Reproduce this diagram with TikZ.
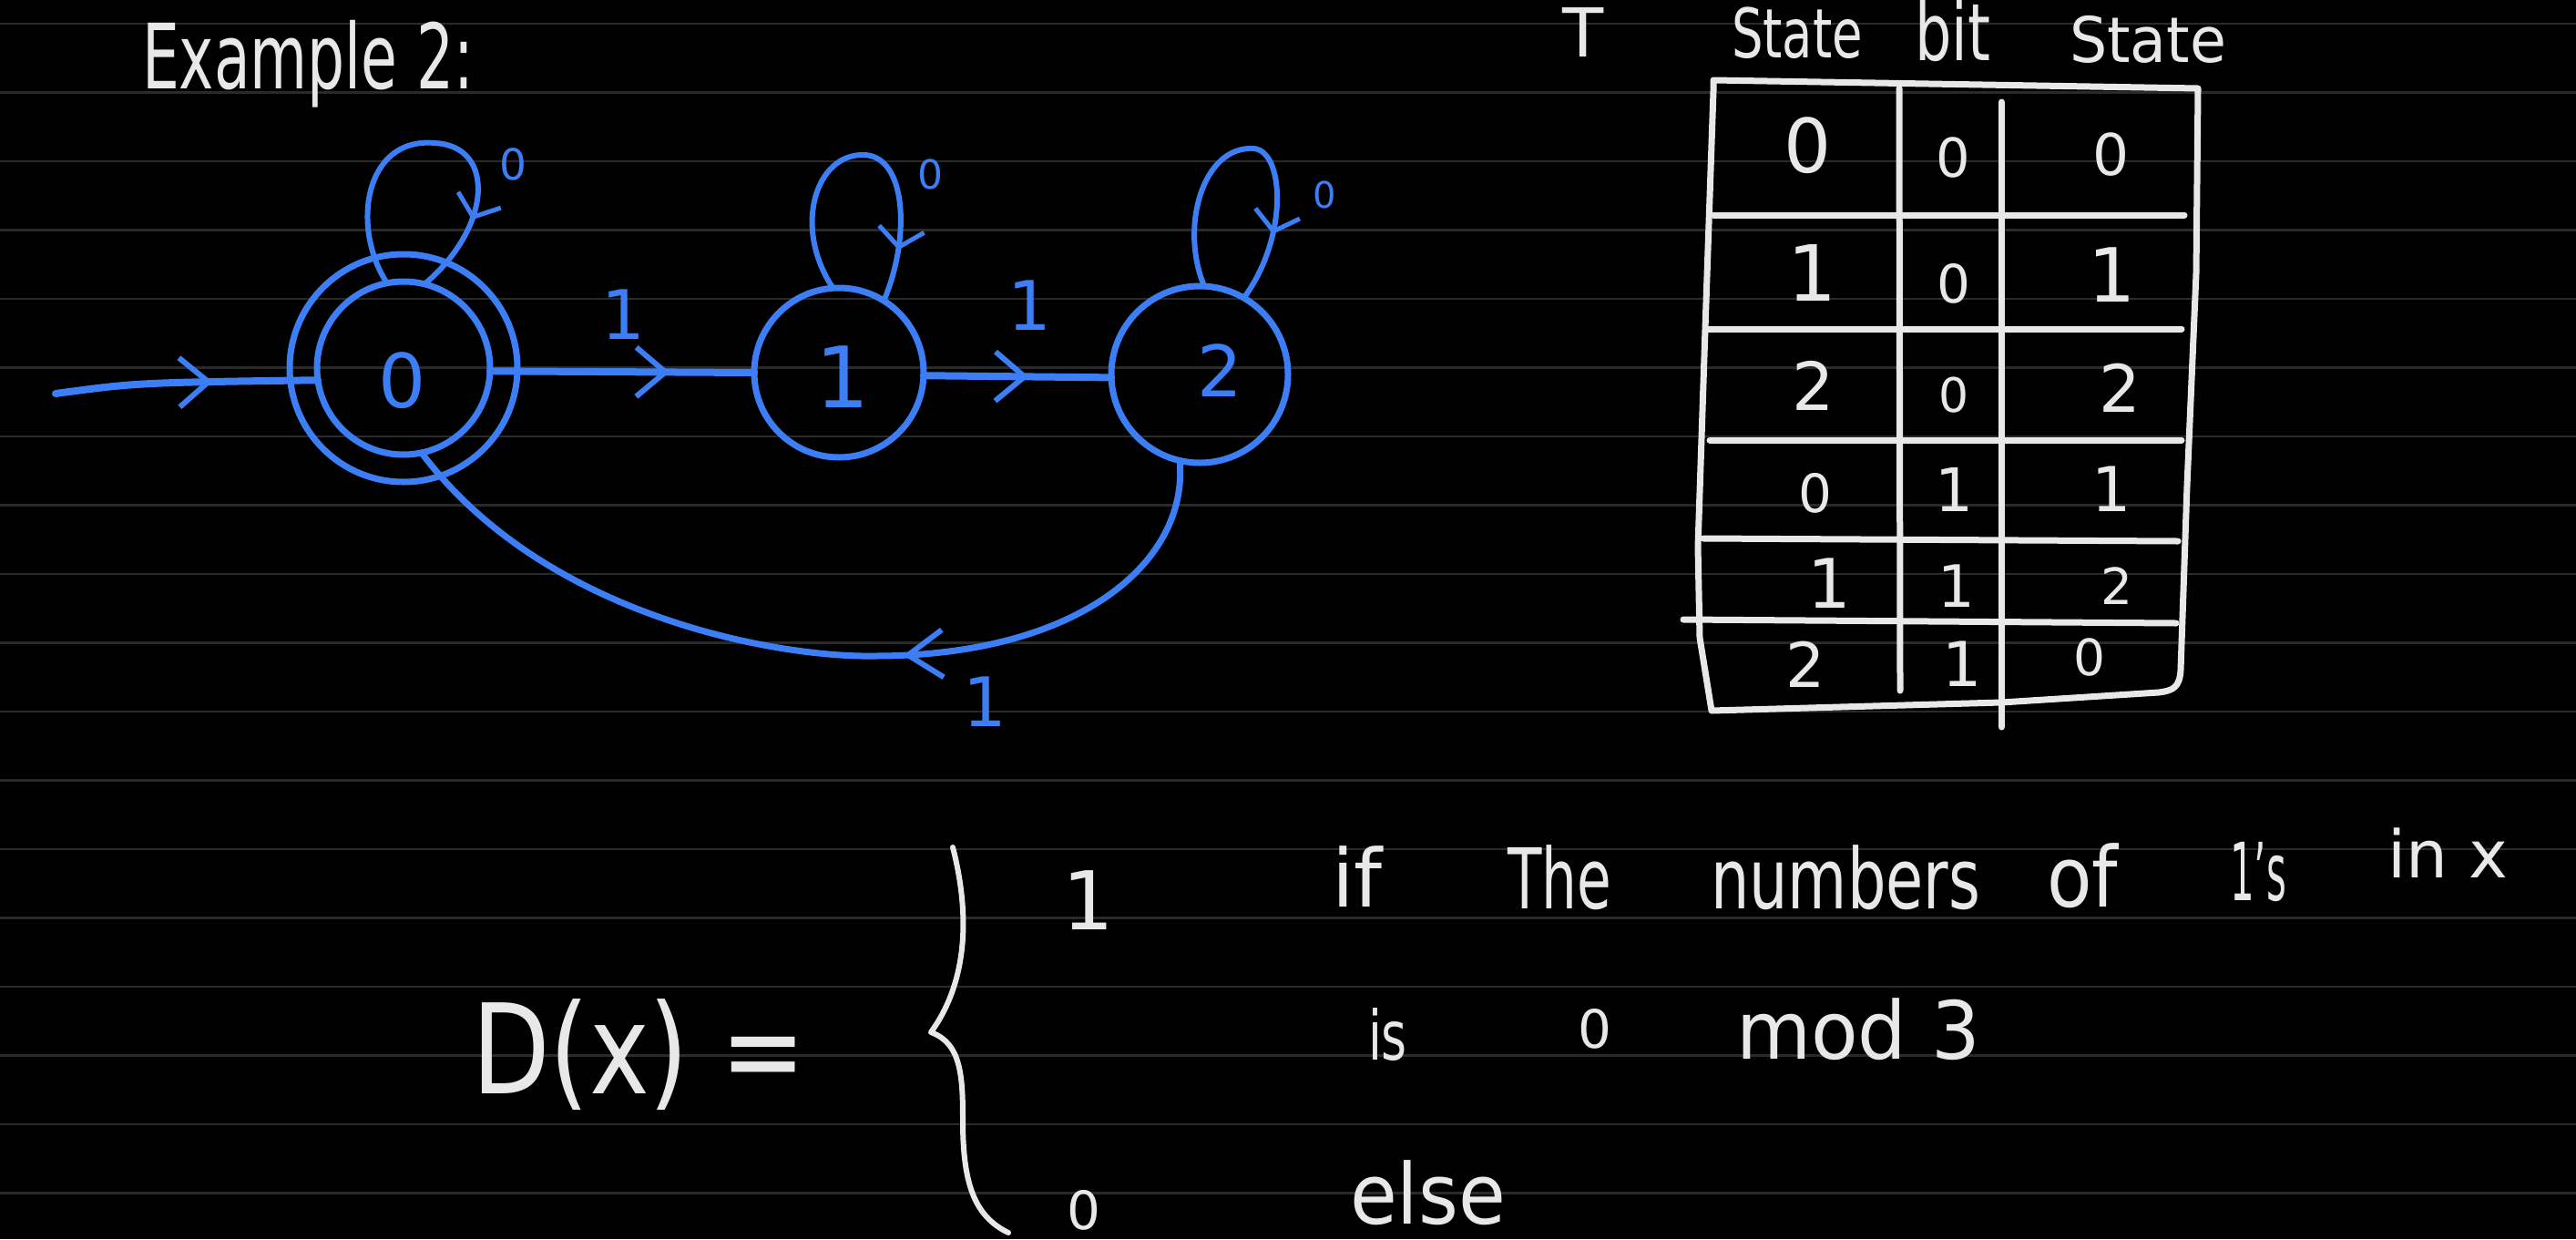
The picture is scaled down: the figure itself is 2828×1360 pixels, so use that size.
\documentclass[tikz,border=0pt]{standalone}
\usepackage{fontspec}
\setmainfont{DejaVu Sans}
\usepackage{graphicx}
\usetikzlibrary{arrows.meta,decorations.markings}
\definecolor{chalk}{RGB}{232,232,232}
\definecolor{ink}{RGB}{59,126,246}
\definecolor{ruleline}{RGB}{42,42,42}
\newcommand{\fsz}[1]{\fontsize{#1}{#1}\selectfont}
\newcommand{\fw}[3]{\resizebox{#1pt}{\height}{\fsz{#2}#3}}
\tikzset{
  chevE/.tip={Straight Barb[length=32pt,width=54pt,line width=6pt]},
  chevL/.tip={Straight Barb[length=20pt,width=50pt,line width=5pt]},
  chevB/.tip={Straight Barb[length=38pt,width=52pt,line width=6pt]},
  tipat/.style 2 args={postaction={decorate,decoration={markings,mark=at position #1 with {\arrow{#2}}}}},
  wt/.style={text=chalk, inner sep=0pt, outer sep=0pt},
  bt/.style={text=ink, inner sep=0pt, outer sep=0pt},
  statenode/.style={draw=ink, line width=7pt, circle, inner sep=0pt, outer sep=0pt},
  edgeline/.style={draw=ink, color=ink, line width=8pt, line cap=round},
  loopline/.style={draw=ink, color=ink, line width=6pt, line cap=round},
  tabline/.style={draw=chalk, line width=7pt, line cap=round, line join=round},
  brace/.style={draw=chalk, line width=6pt, line cap=round, line join=round},
}
\begin{document}
\begin{tikzpicture}[x=1pt,y=-1pt]
\useasboundingbox (0,0) rectangle (2828,1360);
\fill[black] (0,0) rectangle (2828,1360);
\foreach \k in {0,...,17}
  \draw[ruleline, line width=2.2pt] (0,{26+75.5*\k}) -- (2828,{26+75.5*\k});

% ---------- title ----------
\node[wt, anchor=base west] (title) at (156,97) {\fw{364}{99}{Example 2:}};

% ---------- automaton ----------
\node[statenode, minimum size=190pt] (s0) at (443,404) {};
\node[statenode, minimum size=250pt] (s0o) at (443,404) {};
\node[statenode, minimum size=186pt] (s1) at (921,409) {};
\node[statenode, minimum size=194pt] (s2) at (1317,411) {};
\node[bt, font=\fsz{82}] (l0) at (442,418) {0};
\node[bt, font=\fsz{93}] (l1) at (925,414) {1};
\node[bt, font=\fsz{78}] (l2) at (1339,407) {2};

\coordinate (in0) at (61,432);
\draw[edgeline, tipat={0.6}{chevE}] (in0) .. controls (150,420) .. (s0.188);
\draw[edgeline, tipat={0.68}{chevE}] (s0.-2) -- (s1.180);
\draw[edgeline, tipat={0.56}{chevE}] (s1.-2) -- (s2.182);

\draw[loopline, tipat={0.78}{chevL}] (s0.101) .. controls (385,250) and (400,150) .. (477,157)
   .. controls (545,160) and (540,250) .. (s0.76);
\draw[loopline, tipat={0.84}{chevL}] (s1.94) .. controls (870,250) and (895,168) .. (949,170)
   .. controls (995,172) and (1000,260) .. (s1.58);
\draw[loopline, tipat={0.79}{chevL}] (s2.87) .. controls (1295,250) and (1320,160) .. (1376,163)
   .. controls (1410,165) and (1415,260) .. (s2.60);

\coordinate (bm) at (960,720);
\draw[edgeline, line width=7pt, tipat={0.41}{chevB}] (s2.257) .. controls (1305,620) and (1180,720) .. (bm)
   .. controls (860,722) and (600,680) .. (s0.282);

\node[bt, font=\fsz{47}] (e00) at (563,180) {0};
\node[bt, font=\fsz{44}] (e11) at (1021,191) {0};
\node[bt, font=\fsz{40}] (e22) at (1454,214) {0};
\node[bt, font=\fsz{75}] (e01) at (684,345) {1};
\node[bt, font=\fsz{75}] (e12) at (1130,335) {1};
\node[bt, font=\fsz{75}] (e20) at (1081,770) {1};

% ---------- table ----------
\node[wt, anchor=base west, font=\fsz{74}] (hT) at (1715,62) {T};
\node[wt, anchor=base west] (h1) at (1901,63) {\fw{144}{75}{State}};
\node[wt, anchor=base west] (h2) at (2102,66) {\fw{83}{87}{bit}};
\node[wt, anchor=base west] (h3) at (2272,68) {\fw{172}{69}{State}};

\draw[tabline] (1881,88) -- (2413,97) -- (2411,300) -- (2401,533) -- (2394,735)
   .. controls (2393,755) and (2385,758) .. (2370,760) -- (2197,771) -- (1879,780)
   -- (1866,700) -- (1864,600) -- (1872,361) -- (1881,100) -- cycle;
\draw[tabline] (2085,97) -- (2086,758);
\draw[tabline] (2197,112) -- (2197,798);
\draw[tabline] (1881,236) -- (2398,236);
\draw[tabline] (1873,361) -- (2395,361);
\draw[tabline] (1877,483) -- (2395,483);
\draw[tabline] (1870,591) -- (2391,594);
\draw[tabline] (1848,680) -- (2389,684);

\node[wt, font=\fsz{82}] (t11) at (1985,160) {0};
\node[wt, font=\fsz{59}] (t12) at (2144,173) {0};
\node[wt, font=\fsz{63}] (t13) at (2318,170) {0};
\node[wt, font=\fsz{85}] (t21) at (1990,300) {1};
\node[wt, font=\fsz{58}] (t22) at (2145,311) {0};
\node[wt, font=\fsz{82}] (t23) at (2319,302) {1};
\node[wt, font=\fsz{73}] (t31) at (1991,423) {2};
\node[wt, font=\fsz{52}] (t32) at (2145,434) {0};
\node[wt, font=\fsz{72}] (t33) at (2327,426) {2};
\node[wt, font=\fsz{58}] (t41) at (1993,541) {0};
\node[wt, font=\fsz{66}] (t42) at (2145,537) {1};
\node[wt, font=\fsz{68}] (t43) at (2318,537) {1};
\node[wt, font=\fsz{75}] (t51) at (2008,640) {1};
\node[wt, font=\fsz{64}] (t52) at (2148,643) {1};
\node[wt, font=\fsz{55}] (t53) at (2324,643) {2};
\node[wt, font=\fsz{68}] (t61) at (1982,729) {2};
\node[wt, font=\fsz{68}] (t62) at (2154,729) {1};
\node[wt, font=\fsz{55}] (t63) at (2294,721) {0};

% ---------- D(x) ----------
\node[wt, anchor=base west] (dx) at (518,1200) {\fw{367}{137}{D(x) =}};
\draw[brace] (1046,930) .. controls (1064,1000) and (1064,1075) .. (1022,1133)
   .. controls (1055,1145) and (1057,1180) .. (1057,1230)
   .. controls (1057,1300) and (1070,1335) .. (1107,1353);
\node[wt, font=\fsz{89}] (c1) at (1195,988) {1};
\node[wt, font=\fsz{58}] (c0) at (1190,1328) {0};
\node[wt, anchor=base west, font=\fsz{88}] (w1) at (1462,995) {if};
\node[wt, anchor=base west] (w2) at (1655,997) {\fw{114}{92}{The}};
\node[wt, anchor=base west] (w3) at (1878,997) {\fw{296}{92}{numbers}};
\node[wt, anchor=base west] (w4) at (2247,995) {\fw{78}{92}{of}};
\node[wt, anchor=base west] (w5) at (2448,988) {\fw{62}{88}{1's}};
\node[wt, anchor=base west] (w6) at (2621,963) {\fw{132}{72}{in x}};
\node[wt, anchor=base west] (w7) at (1502,1163) {\fw{43}{75}{is}};
\node[wt, font=\fsz{58}] (w8) at (1751,1129) {0};
\node[wt, anchor=base west] (w9) at (1906,1162) {\fw{268}{88}{mod 3}};
\node[wt, anchor=base west] (w10) at (1482,1343) {\fw{171}{92}{else}};
\end{tikzpicture}
\end{document}
